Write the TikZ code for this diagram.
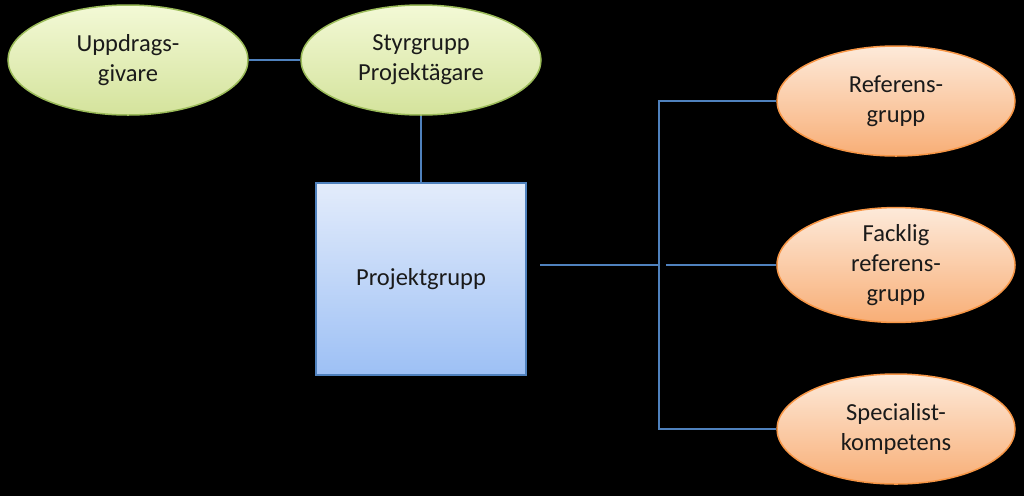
\documentclass[tikz,border=0pt]{standalone}
\usepackage{fontspec}
\setmainfont{Carlito}
\usetikzlibrary{shapes.geometric}
\definecolor{linec}{HTML}{4F81BD}
\definecolor{greenTop}{HTML}{F3F9D6}
\definecolor{greenBot}{HTML}{D4E39C}
\definecolor{greenBd}{HTML}{9BBB59}
\definecolor{orTop}{HTML}{FDEADA}
\definecolor{orBot}{HTML}{F8AE76}
\definecolor{orBd}{HTML}{F79646}
\definecolor{blTop}{HTML}{E3ECFB}
\definecolor{blBot}{HTML}{9DC0F5}
\definecolor{txt}{HTML}{1A1A1A}
\tikzset{
  lbl/.style={font=\fontsize{24.5}{30}\selectfont, text=txt, align=center},
  greenell/.style={lbl, ellipse, minimum width=240pt, minimum height=110pt, inner sep=0pt,
     draw=greenBd, line width=1.5pt, top color=greenTop, bottom color=greenBot},
  orangeell/.style={lbl, ellipse, minimum width=238pt, minimum height=110pt, inner sep=0pt,
     draw=orBd, line width=1.5pt, top color=orTop, bottom color=orBot},
  bluebox/.style={lbl, rectangle, minimum width=210pt, minimum height=192pt, inner sep=0pt,
     draw=linec, line width=1.5pt, top color=blTop, bottom color=blBot},
  conn/.style={draw=linec, line width=2pt}
}
\begin{document}
\begin{tikzpicture}[x=1pt,y=-1pt]
\useasboundingbox (0,0) rectangle (1024,496);
\fill[black] (0,0) rectangle (1024,496);
\node[greenell] (upp) at (128,60) {Uppdrags-\\givare};
\node[greenell] (styr) at (421,60) {Styrgrupp\\Projektägare};
\node[bluebox] (pg) at (421,279) {Projektgrupp};
\node[orangeell] (ref) at (896,101) {Referens-\\grupp};
\node[orangeell] (fack) at (896,265) {Facklig\\referens-\\grupp};
\node[orangeell] (spec) at (896,429) {Specialist-\\kompetens};
\coordinate (pgR) at (540,265);
\coordinate (busx) at (659,265);
\coordinate (fackL) at (666,265);
\draw[conn] (upp.east) -- (styr.west);
\draw[conn] (styr.south) -- (pg.north);
\draw[conn] (pgR) -- (busx);
\draw[conn] (fackL) -- (fack.west);
\draw[conn] (ref.west) -- (ref.west -| busx) -- (spec.west -| busx) -- (spec.west);
\end{tikzpicture}
\end{document}
